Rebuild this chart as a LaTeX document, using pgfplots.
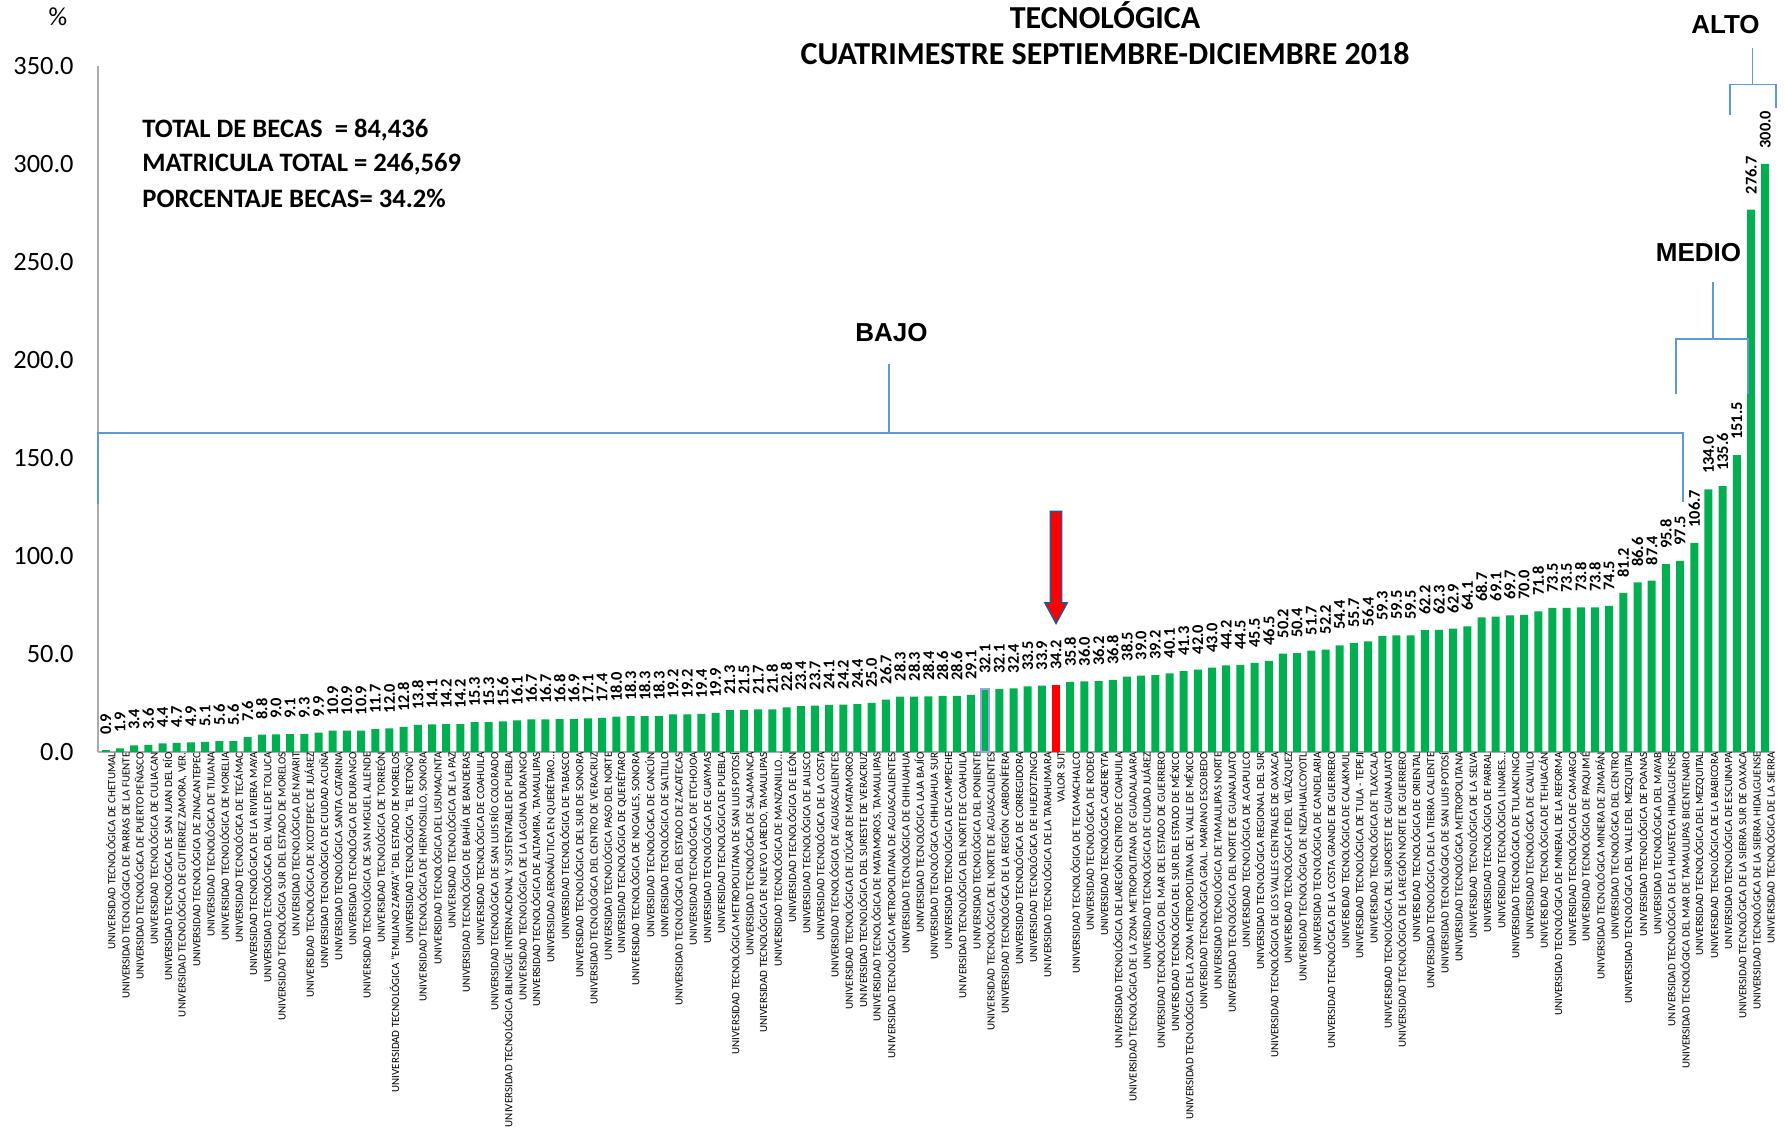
\documentclass[border=0pt]{standalone}
\usepackage{pgfplots}
\pgfplotsset{compat=1.18}
\usepackage{pgfplotstable}
\usepackage{fontspec}
\setmainfont{Carlito}
\newfontfamily\arialfont{Liberation Sans}
\definecolor{barg}{HTML}{00B050}
\definecolor{brk}{HTML}{5B9BD5}
\definecolor{arrb}{HTML}{2F528F}
\definecolor{selc}{HTML}{8EA9DB}

\pgfplotstableread{
x y
1 0.9
2 1.9
3 3.4
4 3.6
5 4.4
6 4.7
7 4.9
8 5.1
9 5.6
10 5.6
11 7.6
12 8.8
13 9.0
14 9.1
15 9.3
16 9.9
17 10.9
18 10.9
19 10.9
20 11.7
21 12.0
22 12.8
23 13.8
24 14.1
25 14.2
26 14.2
27 15.3
28 15.3
29 15.6
30 16.1
31 16.7
32 16.7
33 16.8
34 16.9
35 17.1
36 17.4
37 18.0
38 18.3
39 18.3
40 18.3
41 19.2
42 19.2
43 19.4
44 19.9
45 21.3
46 21.5
47 21.7
48 21.8
49 22.8
50 23.4
51 23.7
52 24.1
53 24.2
54 24.4
55 25.0
56 26.7
57 28.3
58 28.3
59 28.4
60 28.6
61 28.6
62 29.1
63 32.1
64 32.1
65 32.4
66 33.5
67 33.9
69 35.8
70 36.0
71 36.2
72 36.8
73 38.5
74 39.0
75 39.2
76 40.1
77 41.3
78 42.0
79 43.0
80 44.2
81 44.5
82 45.5
83 46.5
84 50.2
85 50.4
86 51.7
87 52.2
88 54.4
89 55.7
90 56.4
91 59.3
92 59.5
93 59.5
94 62.2
95 62.3
96 62.9
97 64.1
98 68.7
99 69.1
100 69.7
101 70.0
102 71.8
103 73.5
104 73.5
105 73.8
106 73.8
107 74.5
108 81.2
109 86.6
110 87.4
111 95.8
112 97.5
113 106.7
114 134.0
115 135.6
116 151.5
117 276.7
118 300.0
}\greendata

\pgfplotstableread{
x y
68 34.2
}\reddata

\begin{document}
\begin{tikzpicture}
\useasboundingbox (-49pt,-191pt) rectangle (843.5pt,376pt);
\begin{axis}[
  at={(0pt,0pt)}, anchor=south west,
  width=838.7pt, height=343pt, scale only axis,
  xmin=0.45, xmax=118.72, ymin=0, ymax=350,
  axis x line*=bottom, axis y line*=left,
  axis line style={-, draw=gray!65, line width=0.7pt},
  major tick length=0pt,
  clip=false,
  xtick={1,2,...,118},
  xticklabels={
{UNIVERSIDAD TECNOLÓGICA DE CHETUMAL},
{UNIVERSIDAD TECNOLÓGICA DE PARRAS DE LA FUENTE},
{UNIVERSIDAD TECNOLÓGICA DE PUERTO PEÑASCO},
{UNIVERSIDAD TECNOLÓGICA DE CULIACAN},
{UNIVERSIDAD TECNOLÓGICA DE SAN JUAN DEL RÍO},
{UNIVERSIDAD TECNOLÓGICA DE GUTIERREZ ZAMORA, VER.},
{UNIVERSIDAD TECNOLÓGICA DE ZINACANTEPEC},
{UNIVERSIDAD TECNOLÓGICA DE TIJUANA},
{UNIVERSIDAD TECNOLÓGICA DE MORELIA},
{UNIVERSIDAD TECNOLÓGICA DE TECÁMAC},
{UNIVERSIDAD TECNOLÓGICA DE LA RIVIERA MAYA},
{UNIVERSIDAD TECNOLÓGICA DEL VALLE DE TOLUCA},
{UNIVERSIDAD TECNOLÓGICA SUR DEL ESTADO DE MORELOS},
{UNIVERSIDAD TECNOLÓGICA DE NAYARIT},
{UNIVERSIDAD TECNOLÓGICA DE XICOTEPEC DE JUÁREZ},
{UNIVERSIDAD TECNOLÓGICA DE CIUDAD ACUÑA},
{UNIVERSIDAD TECNOLÓGICA SANTA CATARINA},
{UNIVERSIDAD TECNOLÓGICA DE DURANGO},
{UNIVERSIDAD TECNOLÓGICA DE SAN MIGUEL ALLENDE},
{UNIVERSIDAD TECNOLÓGICA DE TORREÓN},
{UNIVERSIDAD TECNOLÓGICA "EMILIANO ZAPATA" DEL ESTADO DE MORELOS},
{UNIVERSIDAD TECNOLÓGICA "EL RETOÑO"},
{UNIVERSIDAD TECNOLÓGICA DE HERMOSILLO, SONORA},
{UNIVERSIDAD TECNOLÓGICA DEL USUMACINTA},
{UNIVERSIDAD TECNOLÓGICA DE LA PAZ},
{UNIVERSIDAD TECNOLÓGICA DE BAHÍA DE BANDERAS},
{UNIVERSIDAD TECNOLÓGICA DE COAHUILA},
{UNIVERSIDAD TECNOLÓGICA DE SAN LUIS RÍO COLORADO},
{UNIVERSIDAD TECNOLÓGICA BILINGÜE INTERNACIONAL Y SUSTENTABLE DE PUEBLA},
{UNIVERSIDAD TECNOLÓGICA DE LA LAGUNA DURANGO},
{UNIVERSIDAD TECNOLÓGICA DE ALTAMIRA, TAMAULIPAS},
{UNIVERSIDAD AERONÁUTICA EN QUERÉTARO\ldots},
{UNIVERSIDAD TECNOLÓGICA DE TABASCO},
{UNIVERSIDAD TECNOLÓGICA DEL SUR DE SONORA},
{UNIVERSIDAD TECNOLÓGICA DEL CENTRO DE VERACRUZ},
{UNIVERSIDAD TECNOLÓGICA PASO DEL NORTE},
{UNIVERSIDAD TECNOLÓGICA DE QUERÉTARO},
{UNIVERSIDAD TECNOLÓGICA DE NOGALES, SONORA},
{UNIVERSIDAD TECNOLÓGICA DE CANCÚN},
{UNIVERSIDAD TECNOLÓGICA DE SALTILLO},
{UNIVERSIDAD TECNOLÓGICA DEL ESTADO DE ZACATECAS},
{UNIVERSIDAD TECNOLÓGICA DE ETCHOJOA},
{UNIVERSIDAD TECNOLÓGICA DE GUAYMAS},
{UNIVERSIDAD TECNOLÓGICA DE PUEBLA},
{UNIVERSIDAD TECNOLÓGICA METROPOLITANA DE  SAN LUIS POTOSÍ},
{UNIVERSIDAD TECNOLÓGICA DE SALAMANCA},
{UNIVERSIDAD TECNOLÓGICA DE NUEVO LAREDO, TAMAULIPAS},
{UNIVERSIDAD TECNOLÓGICA DE MANZANILLO\ldots},
{UNIVERSIDAD TECNOLÓGICA DE LEÓN},
{UNIVERSIDAD TECNOLÓGICA DE JALISCO},
{UNIVERSIDAD TECNOLÓGICA DE LA COSTA},
{UNIVERSIDAD TECNOLÓGICA DE AGUASCALIENTES},
{UNIVERSIDAD TECNOLÓGICA DE IZÚCAR DE MATAMOROS},
{UNIVERSIDAD TECNOLÓGICA DEL SURESTE DE VERACRUZ},
{UNIVERSIDAD TECNOLÓGICA DE MATAMOROS, TAMAULIPAS},
{UNIVERSIDAD TECNOLÓGICA METROPOLITANA DE AGUASCALIENTES},
{UNIVERSIDAD TECNOLÓGICA DE CHIHUAHUA},
{UNIVERSIDAD TECNOLÓGICA LAJA BAJÍO},
{UNIVERSIDAD TECNOLÓGICA CHIHUAHUA SUR},
{UNIVERSIDAD TECNOLÓGICA DE CAMPECHE},
{UNIVERSIDAD TECNOLÓGICA DEL NORTE DE COAHUILA},
{UNIVERSIDAD TECNOLÓGICA DEL PONIENTE},
{UNIVERSIDAD TECNOLÓGICA DEL NORTE DE AGUASCALIENTES},
{UNIVERSIDAD TECNOLÓGICA DE LA REGIÓN CARBONÍFERA},
{UNIVERSIDAD TECNOLÓGICA DE CORREGIDORA},
{UNIVERSIDAD TECNOLÓGICA DE HUEJOTZINGO},
{UNIVERSIDAD TECNOLÓGICA DE LA TARAHUMARA},
{VALOR SUT},
{UNIVERSIDAD TECNOLÓGICA DE TECAMACHALCO},
{UNIVERSIDAD TECNOLÓGICA DE RODEO},
{UNIVERSIDAD TECNOLÓGICA CADEREYTA},
{UNIVERSIDAD TECNOLÓGICA DE LAREGIÓN CENTRO DE COAHUILA},
{UNIVERSIDAD TECNOLÓGICA DE LA ZONA METROPOLITANA DE GUADALAJARA},
{UNIVERSIDAD TECNOLÓGICA DE CIUDAD JUÁREZ},
{UNIVERSIDAD TECNOLÓGICA DEL MAR DEL ESTADO DE GUERRERO},
{UNIVERSIDAD TECNOLÓGICA DEL SUR DEL ESTADO DE MÉXICO},
{UNIVERSIDAD TECNOLÓGICA DE LA ZONA METROPOLITANA DEL VALLE DE MÉXICO},
{UNIVERSIDAD TECNOLÓGICA GRAL. MARIANO ESCOBEDO},
{UNIVERSIDAD TECNOLÓGICA DE TAMAULIPAS NORTE},
{UNIVERSIDAD TECNOLÓGICA DEL NORTE DE GUANAJUATO},
{UNIVERSIDAD TECNOLÓGICA DE ACAPULCO},
{UNIVERSIDAD TECNOLÓGICA REGIONAL DEL SUR},
{UNIVERSIDAD TECNOLÓGICA DE LOS VALLES CENTRALES DE OAXACA},
{UNIVERSIDAD TECNOLÓGICA FIDEL VELÁZQUEZ},
{UNIVERSIDAD TECNOLÓGICA DE NEZAHUALCOYOTL},
{UNIVERSIDAD TECNOLÓGICA DE CANDELARIA},
{UNIVERSIDAD TECNOLÓGICA DE LA COSTA GRANDE DE GUERRERO},
{UNIVERSIDAD TECNOLÓGICA DE CALAKMUL},
{UNIVERSIDAD TECNOLÓGICA DE TULA - TEPEJI},
{UNIVERSIDAD TECNOLÓGICA DE TLAXCALA},
{UNIVERSIDAD TECNOLÓGICA DEL SUROESTE DE GUANAJUATO},
{UNIVERSIDAD TECNOLÓGICA DE LA REGIÓN NORTE DE GUERRERO},
{UNIVERSIDAD TECNOLÓGICA DE ORIENTAL},
{UNIVERSIDAD TECNOLÓGICA DE LA TIERRA CALIENTE},
{UNIVERSIDAD TECNOLÓGICA DE SAN LUIS POTOSÍ},
{UNIVERSIDAD TECNOLÓGICA METROPOLITANA},
{UNIVERSIDAD TECNOLÓGICA DE LA SELVA},
{UNIVERSIDAD TECNOLÓGICA DE PARRAL},
{UNIVERSIDAD TECNOLÓGICA LINARES\ldots},
{UNIVERSIDAD TECNOLÓGICA DE TULANCINGO},
{UNIVERSIDAD TECNOLÓGICA DE CALVILLO},
{UNIVERSIDAD TECNOLÓGICA DE TEHUACÁN},
{UNIVERSIDAD TECNOLÓGICA DE MINERAL DE LA REFORMA},
{UNIVERSIDAD TECNOLÓGICA DE CAMARGO},
{UNIVERSIDAD TECNOLÓGICA DE PAQUIMÉ},
{UNIVERSIDAD TECNOLÓGICA MINERA DE ZIMAPÁN},
{UNIVERSIDAD TECNOLÓGICA DEL CENTRO},
{UNIVERSIDAD TECNOLÓGICA DEL VALLE DEL MEZQUITAL},
{UNIVERSIDAD TECNOLÓGICA DE POANAS},
{UNIVERSIDAD TECNOLÓGICA DEL MAYAB},
{UNIVERSIDAD TECNOLÓGICA DE LA HUASTECA HIDALGUENSE},
{UNIVERSIDAD TECNOLÓGICA DEL MAR DE TAMAULIPAS BICENTENARIO},
{UNIVERSIDAD TECNOLÓGICA DEL MEZQUITAL},
{UNIVERSIDAD TECNOLÓGICA DE LA BABICORA},
{UNIVERSIDAD TECNOLÓGICA DE ESCUINAPA},
{UNIVERSIDAD TECNOLÓGICA DE LA SIERRA SUR DE OAXACA},
{UNIVERSIDAD TECNOLÓGICA DE LA SIERRA HIDALGUENSE},
{UNIVERSIDAD TECNOLÓGICA DE LA SIERRA}
  },
  xticklabel style={rotate=90, anchor=east, inner sep=0pt, yshift=-2.5pt,
    font=\fontsize{5.5}{5.5}\selectfont},
  ytick={0,50,...,350},
  yticklabel={\pgfmathprintnumber[fixed,zerofill,precision=1,assume math mode=true]{\tick}},
  yticklabel style={anchor=east, inner sep=0pt, xshift=-12pt,
    font=\fontsize{13.2}{14}\selectfont},
  valstyle/.style={
    nodes near coords={\pgfmathprintnumber[fixed,zerofill,precision=1,assume math mode=true]{\pgfplotspointmeta}},
    nodes near coords style={rotate=90, anchor=west, inner xsep=7.5pt, inner ysep=1pt,
      font=\bfseries\fontsize{8.2}{8.5}\selectfont, text=black}},
]
\addplot[ybar, bar shift=0pt, bar width=4pt, fill=barg, draw=none, valstyle]
  table[x=x, y=y] {\greendata};
\addplot[ybar, bar shift=0pt, bar width=4pt, fill=red, draw=none, valstyle]
  table[x=x, y=y] {\reddata};
\addplot[ybar, bar shift=0pt, bar width=4pt, fill=none, draw=selc, line width=0.8pt]
  coordinates {(63,32.1)};

% brackets
\draw[brk, line width=0.9pt] (axis cs:0.45,126.7) -- (axis cs:0.45,162.8) -- (axis cs:112.2,162.8) -- (axis cs:112.2,127.4);
\draw[brk, line width=0.9pt] (axis cs:56.2,162.8) -- (axis cs:56.2,198);
\node[font=\arialfont\bfseries\fontsize{13}{13}\selectfont] at (axis cs:56.4,214) {BAJO};

\draw[brk, line width=0.9pt] (axis cs:111.7,182.9) -- (axis cs:111.7,210.6) -- (axis cs:116.8,210.6) -- (axis cs:116.8,182.9);
\draw[brk, line width=0.9pt] (axis cs:114.3,210.6) -- (axis cs:114.3,240);
\node[font=\arialfont\bfseries\fontsize{13}{13}\selectfont] at (axis cs:113.3,255) {MEDIO};

\draw[brk, line width=0.9pt] (axis cs:115.5,325) -- (axis cs:115.5,340.6) -- (axis cs:118.75,340.6) -- (axis cs:118.75,328.8);
\draw[brk, line width=0.9pt] (axis cs:117.1,340.6) -- (axis cs:117.1,359);
\node[font=\arialfont\bfseries\fontsize{13}{13}\selectfont] at (axis cs:115.2,371) {ALTO};

% arrow to VALOR SUT
\draw[arrb, fill=red, line width=0.8pt, line join=miter]
  ([xshift=-2.8pt]axis cs:68,122.7) -- ([xshift=2.8pt]axis cs:68,122.7)
  -- ([xshift=2.8pt]axis cs:68,76) -- ([xshift=5.5pt]axis cs:68,76)
  -- (axis cs:68,65.7) -- ([xshift=-5.5pt]axis cs:68,76)
  -- ([xshift=-2.8pt]axis cs:68,76) -- cycle;
\end{axis}

% titles and notes
\node[font=\bfseries\fontsize{16}{16}\selectfont] at (503.5pt,368.5pt) {TECNOLÓGICA};
\node[font=\bfseries\fontsize{16}{16}\selectfont] at (503.5pt,349pt) {CUATRIMESTRE SEPTIEMBRE-DICIEMBRE 2018};
\node[font=\fontsize{13}{13}\selectfont] at (-20pt,367.7pt) {\%};
\node[anchor=west, inner sep=0pt, font=\bfseries\fontsize{13.3}{14}\selectfont] at (22pt,311pt) {TOTAL DE BECAS\ \ = 84,436};
\node[anchor=west, inner sep=0pt, font=\bfseries\fontsize{13.3}{14}\selectfont] at (22pt,294pt) {MATRICULA TOTAL = 246,569};
\node[anchor=west, inner sep=0pt, font=\bfseries\fontsize{13.3}{14}\selectfont] at (22pt,277pt) {PORCENTAJE BECAS= 34.2\%};
\end{tikzpicture}
\end{document}
